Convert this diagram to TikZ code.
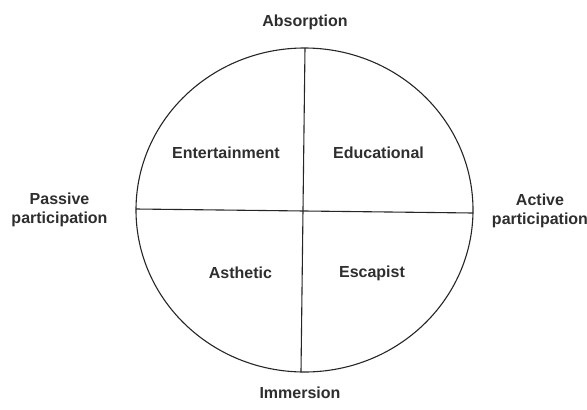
\documentclass[tikz,border=0pt]{standalone}
\usepackage{fontspec}
\setmainfont{Liberation Sans}
\usetikzlibrary{shapes.geometric}
\begin{document}
\begin{tikzpicture}[x=1pt,y=-1pt,
  lbl/.style={font=\fontsize{16}{18.6}\selectfont\bfseries, text=black!82, align=center, inner sep=0pt},
  rim/.style={draw=black!85, line width=1.1pt}]
\useasboundingbox (0,0) rectangle (587,410);
\node[rim, ellipse, minimum width=337pt, minimum height=324pt, inner sep=0pt] (c) at (304.5,210) {};
\coordinate (t) at (305,48);
\coordinate (b) at (301,372);
\coordinate (l) at (136,209);
\coordinate (r) at (473,213);
\draw[rim] (t) -- (b);
\draw[rim] (l) -- (r);
\node[lbl] (abs) at (305,22) {Absorption};
\node[lbl] (imm) at (300,393) {Immersion};
\node[lbl] (pas) at (59.5,210) {Passive\\participation};
\node[lbl] (act) at (540,211) {Active\\participation};
\node[lbl] (ent) at (226,153) {Entertainment};
\node[lbl] (edu) at (378.5,153) {Educational};
\node[lbl] (ast) at (240.5,273) {Asthetic};
\node[lbl] (esc) at (372,273) {Escapist};
\end{tikzpicture}
\end{document}
